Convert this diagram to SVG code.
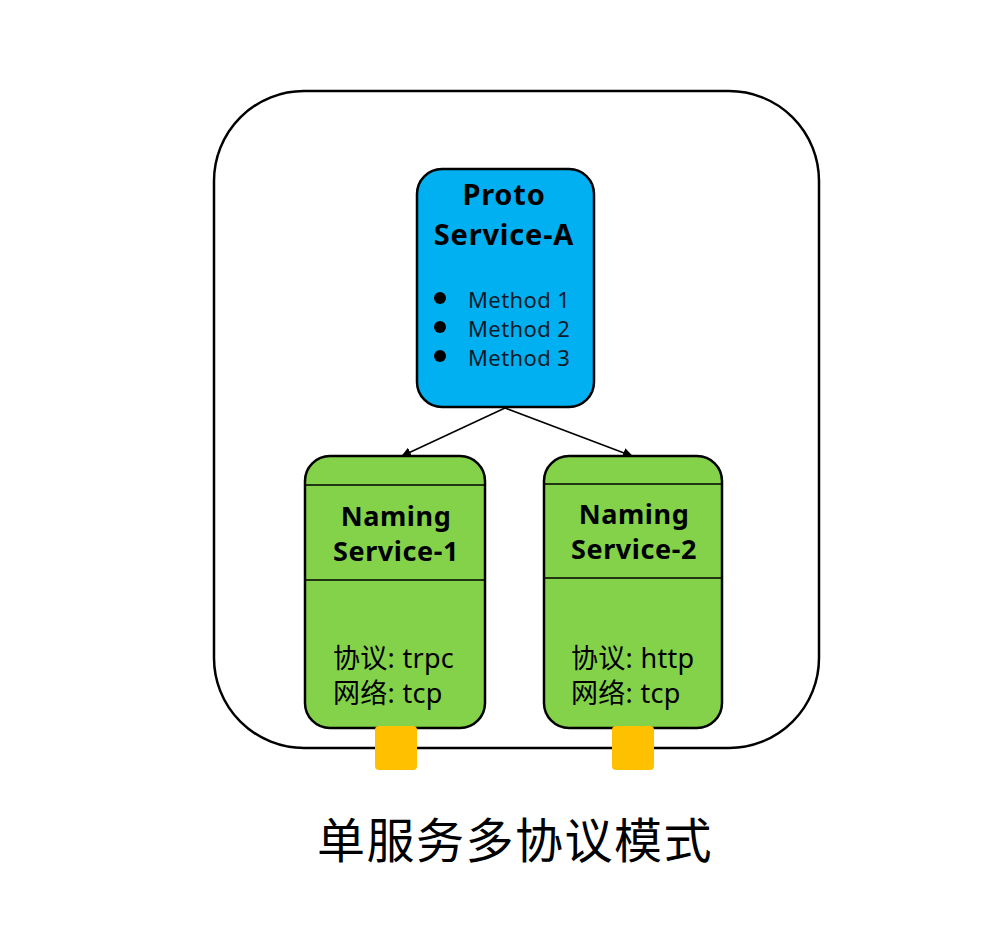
<svg xmlns="http://www.w3.org/2000/svg" width="996" height="950" viewBox="0 0 996 950">
<style>
.t{font-family:"Noto Sans","Liberation Sans","Noto Sans CJK SC",sans-serif;fill:#000}
.b{font-weight:bold}
.m{fill:#0d1a2b;font-size:22px;letter-spacing:0.4px}
.box{stroke:#000;stroke-width:2.5}
.ln{stroke:#000;stroke-width:1.5}
</style>
<defs>
<marker id="ah" markerWidth="10" markerHeight="10" refX="9" refY="5" orient="auto" markerUnits="userSpaceOnUse">
<path d="M0,0 L10,5 L0,10 z" fill="#000"/>
</marker>
</defs>
<rect width="996" height="950" fill="#fff"/>
<g id="container">
<rect x="214" y="91" width="605" height="657" rx="90" ry="90" fill="none" stroke="#000" stroke-width="2.5"/>
</g>
<g id="connectors">
<line x1="505" y1="408" x2="402" y2="456" class="ln" marker-end="url(#ah)"/>
<line x1="505" y1="408" x2="632" y2="456" class="ln" marker-end="url(#ah)"/>
</g>
<g id="proto">
<rect x="417" y="169" width="177" height="238" rx="25" fill="#00B0F0" class="box"/>
<text class="t b" x="504" y="205" font-size="29" letter-spacing="0.8" text-anchor="middle">Proto</text>
<text class="t b" x="504" y="245" font-size="29" letter-spacing="0.8" text-anchor="middle">Service-A</text>
<circle cx="440" cy="298" r="6" fill="#000"/>
<circle cx="440" cy="327" r="6" fill="#000"/>
<circle cx="440" cy="356" r="6" fill="#000"/>
<text class="t m" x="468" y="308">Method 1</text>
<text class="t m" x="468" y="337">Method 2</text>
<text class="t m" x="468" y="366">Method 3</text>
</g>
<g id="naming1">
<rect x="305" y="456" width="180" height="272" rx="25" fill="#84D24A" class="box"/>
<line x1="306" y1="485" x2="484" y2="485" class="ln"/>
<line x1="306" y1="580" x2="484" y2="580" class="ln"/>
<text class="t b" x="396" y="526" font-size="27" letter-spacing="0.6" text-anchor="middle">Naming</text>
<text class="t b" x="396" y="561" font-size="27" letter-spacing="0.6" text-anchor="middle">Service-1</text>
<text class="t" x="333" y="668" font-size="27" letter-spacing="0.3">协议: trpc</text>
<text class="t" x="333" y="703" font-size="27" letter-spacing="0.3">网络: tcp</text>
<rect x="375" y="726" width="42" height="44" rx="4" fill="#FFC000"/>
</g>
<g id="naming2">
<rect x="544" y="456" width="178" height="272" rx="25" fill="#84D24A" class="box"/>
<line x1="545" y1="484" x2="721" y2="484" class="ln"/>
<line x1="545" y1="578" x2="721" y2="578" class="ln"/>
<text class="t b" x="634" y="524" font-size="27" letter-spacing="0.6" text-anchor="middle">Naming</text>
<text class="t b" x="634" y="559" font-size="27" letter-spacing="0.6" text-anchor="middle">Service-2</text>
<text class="t" x="571" y="668" font-size="27" letter-spacing="0.3">协议: http</text>
<text class="t" x="571" y="703" font-size="27" letter-spacing="0.3">网络: tcp</text>
<rect x="612" y="726" width="42" height="44" rx="4" fill="#FFC000"/>
</g>
<g id="title">
<text class="t" x="515" y="858" font-size="48" letter-spacing="1.5" text-anchor="middle" font-family="Noto Sans CJK SC">单服务多协议模式</text>
</g>
</svg>
